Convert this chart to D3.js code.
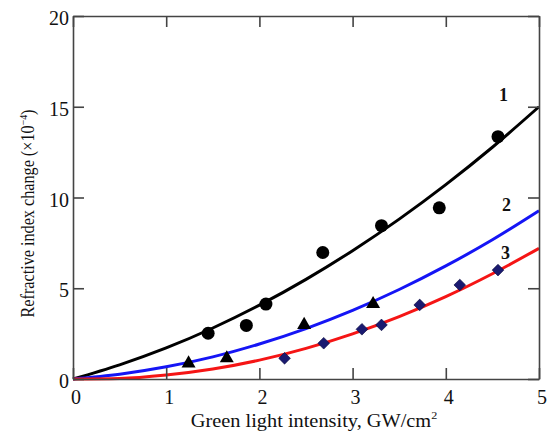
<!DOCTYPE html>
<html><head><meta charset="utf-8">
<script src="https://cdn.jsdelivr.net/npm/d3@7"></script>
<style>body{margin:0;background:#fff}svg{display:block}</style>
</head><body>
<script>
// Fitted curves (at x = 0, 0.5, ..., 5)
const curveX = [0, 0.5, 1, 1.5, 2, 2.5, 3, 3.5, 4, 4.5, 5];
const curve1 = [0, 0.78, 1.71, 2.81, 4.07, 5.49, 7.07, 8.81, 10.71, 12.77, 15.0];
const curve2 = [0, 0.26, 0.67, 1.22, 1.93, 2.78, 3.78, 4.93, 6.23, 7.67, 9.27];
const curve3 = [0, 0.03, 0.22, 0.55, 1.04, 1.69, 2.49, 3.44, 4.54, 5.80, 7.2];
// Measured points
const circX = [1.45, 1.86, 2.07, 2.68, 3.31, 3.93, 4.56];
const circY = [2.52, 2.95, 4.13, 6.97, 8.45, 9.43, 13.35];
const triX = [1.24, 1.65, 2.48, 3.22];
const triY = [0.86, 1.14, 2.98, 4.13];
const diaX = [2.27, 2.69, 3.10, 3.31, 3.72, 4.15, 4.56];
const diaY = [1.14, 1.97, 2.74, 2.98, 4.08, 5.18, 6.0];
const xTicks = [0, 1, 2, 3, 4, 5];
const yTicks = [0, 5, 10, 15, 20];
const curveLabels = ["1", "2", "3"];
const labelPos = [[4.62, 15.3], [4.65, 9.25], [4.64, 6.6]];

const W = 549, H = 431;
const L = 73, R = 539, T = 16, B = 379;
const svg = d3.select("body").append("svg").attr("width", W).attr("height", H)
  .style("font-family", "'Liberation Serif', 'Times New Roman', serif");
const x = d3.scaleLinear().domain([0, 5]).range([L, R]);
const y = d3.scaleLinear().domain([0, 20]).range([B, T]);
const axisCol = "#444";

// Curves
const line = d3.line().x((d, i) => x(curveX[i])).y(d => y(d)).curve(d3.curveMonotoneX);
[[curve1, "#000"], [curve2, "#1515f5"], [curve3, "#f51515"]].forEach(([c, col]) => {
  svg.append("path").attr("d", line(c)).attr("fill", "none").attr("stroke", col).attr("stroke-width", 3);
});

// Axes (all four sides, inward ticks)
const tl = 11;
const ax = [
  d3.axisBottom(x).tickValues(xTicks).tickSizeInner(-tl).tickSizeOuter(0).tickFormat(""),
  d3.axisTop(x).tickValues(xTicks).tickSizeInner(-tl).tickSizeOuter(0).tickFormat(""),
  d3.axisLeft(y).tickValues(yTicks).tickSizeInner(-tl).tickSizeOuter(0).tickFormat(""),
  d3.axisRight(y).tickValues(yTicks).tickSizeInner(-tl).tickSizeOuter(0).tickFormat("")
];
const tr = [`translate(0,${B})`, `translate(0,${T})`, `translate(${L},0)`, `translate(${R},0)`];
ax.forEach((a, i) => {
  const gg = svg.append("g").attr("transform", tr[i]).call(a);
  gg.selectAll("path,line").attr("stroke", axisCol).attr("stroke-width", 1.6);
});

// Tick labels
svg.append("g").selectAll("text").data(xTicks).join("text")
  .attr("x", d => x(d) + 3).attr("y", B + 25)
  .attr("text-anchor", "middle").attr("font-size", 20).attr("fill", "#111").text(d => d);
svg.append("g").selectAll("text").data(yTicks).join("text")
  .attr("x", L - 4).attr("y", d => y(d) + 9)
  .attr("text-anchor", "end").attr("font-size", 20).attr("fill", "#111").text(d => d);

// Axis titles
const xt = svg.append("text").attr("transform", `translate(${(L + R) / 2 + 8},427) scale(1.1,1)`)
  .attr("text-anchor", "middle").attr("font-size", 18.5).attr("fill", "#111");
xt.append("tspan").text("Green light intensity, GW/cm");
xt.append("tspan").attr("font-size", 11).attr("dy", -8).text("2");
const yt = svg.append("text").attr("transform", `translate(33.5,${(T + B) / 2 + 16}) rotate(-90) scale(0.9,1)`)
  .attr("text-anchor", "middle").attr("font-size", 18).attr("fill", "#111");
yt.append("tspan").text("Refractive index change (×10");
yt.append("tspan").attr("font-size", 11).attr("dy", -7).text("−4");
yt.append("tspan").attr("dy", 7).text(")");

// Markers
svg.append("g").selectAll("circle").data(circX).join("circle")
  .attr("cx", d => x(d)).attr("cy", (d, i) => y(circY[i])).attr("r", 6.5).attr("fill", "#000");
const tri = d3.symbol().type(d3.symbolTriangle).size(85);
svg.append("g").selectAll("path").data(triX).join("path")
  .attr("d", tri).attr("transform", (d, i) => `translate(${x(d)},${y(triY[i])})`).attr("fill", "#000");
const dia = d3.symbol().type(d3.symbolSquare).size(68);
svg.append("g").selectAll("path").data(diaX).join("path")
  .attr("d", dia).attr("transform", (d, i) => `translate(${x(d)},${y(diaY[i])}) rotate(45)`)
  .attr("fill", "#1a1a70").attr("stroke", "#0a0a40").attr("stroke-width", 0.6);

// Curve labels
svg.append("g").selectAll("text").data(curveLabels).join("text")
  .attr("x", (d, i) => x(labelPos[i][0])).attr("y", (d, i) => y(labelPos[i][1]))
  .attr("text-anchor", "middle").attr("font-size", 18).attr("font-weight", "bold").attr("fill", "#111")
  .text(d => d);
</script>
</body></html>
